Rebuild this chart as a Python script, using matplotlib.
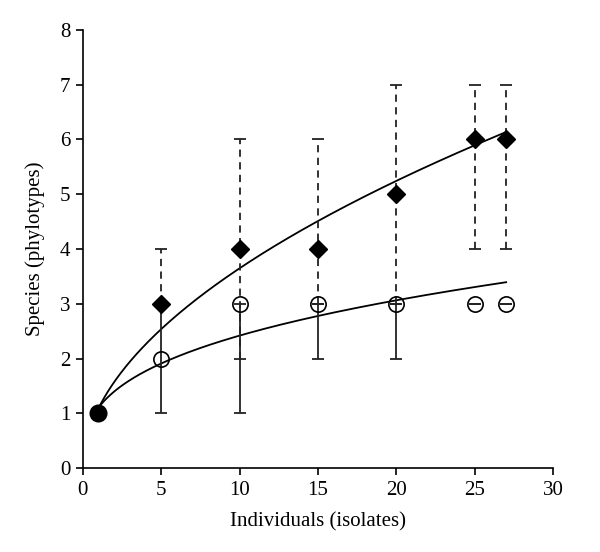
import numpy as np
import matplotlib
matplotlib.use("Agg")
import matplotlib.pyplot as plt

# Data
individuals = [1, 5, 10, 15, 20, 25, 27]
species_diamond = [1, 3, 4, 4, 5, 6, 6]
diamond_low = [1, 3, 2, 3, 3, 4, 4]
diamond_high = [1, 4, 6, 6, 7, 7, 7]
species_circle = [1, 2, 3, 3, 3, 3, 3]
circle_low = [1, 1, 1, 2, 2, 3, 3]
circle_high = [1, 3, 3, 3, 3, 3, 3]
x_ticks = [0, 5, 10, 15, 20, 25, 30]
y_ticks = [0, 1, 2, 3, 4, 5, 6, 7, 8]

plt.rcParams['font.family'] = ['Liberation Serif', 'DejaVu Serif']

fig = plt.figure(figsize=(6.0, 5.52), dpi=100)
ax = fig.add_axes([0.138, 0.152, 0.784, 0.794])

x = np.array(individuals, dtype=float)
yd = np.array(species_diamond, dtype=float)
yc = np.array(species_circle, dtype=float)

# Power trend lines (log-log least squares)
xf = np.linspace(x.min(), x.max(), 300)
for ys in (yd, yc):
    b, lna = np.polyfit(np.log(x), np.log(ys), 1)
    ax.plot(xf, np.exp(lna) * xf ** b, color='black', lw=1.3, zorder=2)

# Diamond series error bars (dashed)
yerr_d = [yd - np.array(diamond_low), np.array(diamond_high) - yd]
eb = ax.errorbar(x, yd, yerr=yerr_d, fmt='none', ecolor='#222222',
                 elinewidth=1.3, capsize=4, capthick=1.3, zorder=3)
eb[2][0].set_linestyle((0, (4, 3)))

# Circle series error bars (solid)
yerr_c = [yc - np.array(circle_low), np.array(circle_high) - yc]
ax.errorbar(x, yc, yerr=yerr_c, fmt='none', ecolor='#222222',
            elinewidth=1.3, capsize=4, capthick=1.3, zorder=3)

# Markers
ax.plot(x[1:], yd[1:], linestyle='none', marker='D', ms=9.5,
        mfc='black', mec='black', zorder=5)
ax.plot(x[1:], yc[1:], linestyle='none', marker='o', ms=11,
        mfc='none', mec='black', mew=1.2, zorder=5)
ax.plot(x[:1], yc[:1], linestyle='none', marker='o', ms=12,
        mfc='black', mec='black', zorder=6)

ax.set_xlim(0, 30)
ax.set_ylim(0, 8)
ax.set_xticks(x_ticks)
ax.set_yticks(y_ticks)
ax.spines['top'].set_visible(False)
ax.spines['right'].set_visible(False)
for s in ('left', 'bottom'):
    ax.spines[s].set_linewidth(1.2)
ax.tick_params(direction='out', length=5, width=1.2, labelsize=15, pad=4)
ax.set_xlabel('Individuals (isolates)', fontsize=15, labelpad=9)
ax.set_ylabel('Species (phylotypes)', fontsize=15, labelpad=11)

fig.savefig('out.png', dpi=100)
